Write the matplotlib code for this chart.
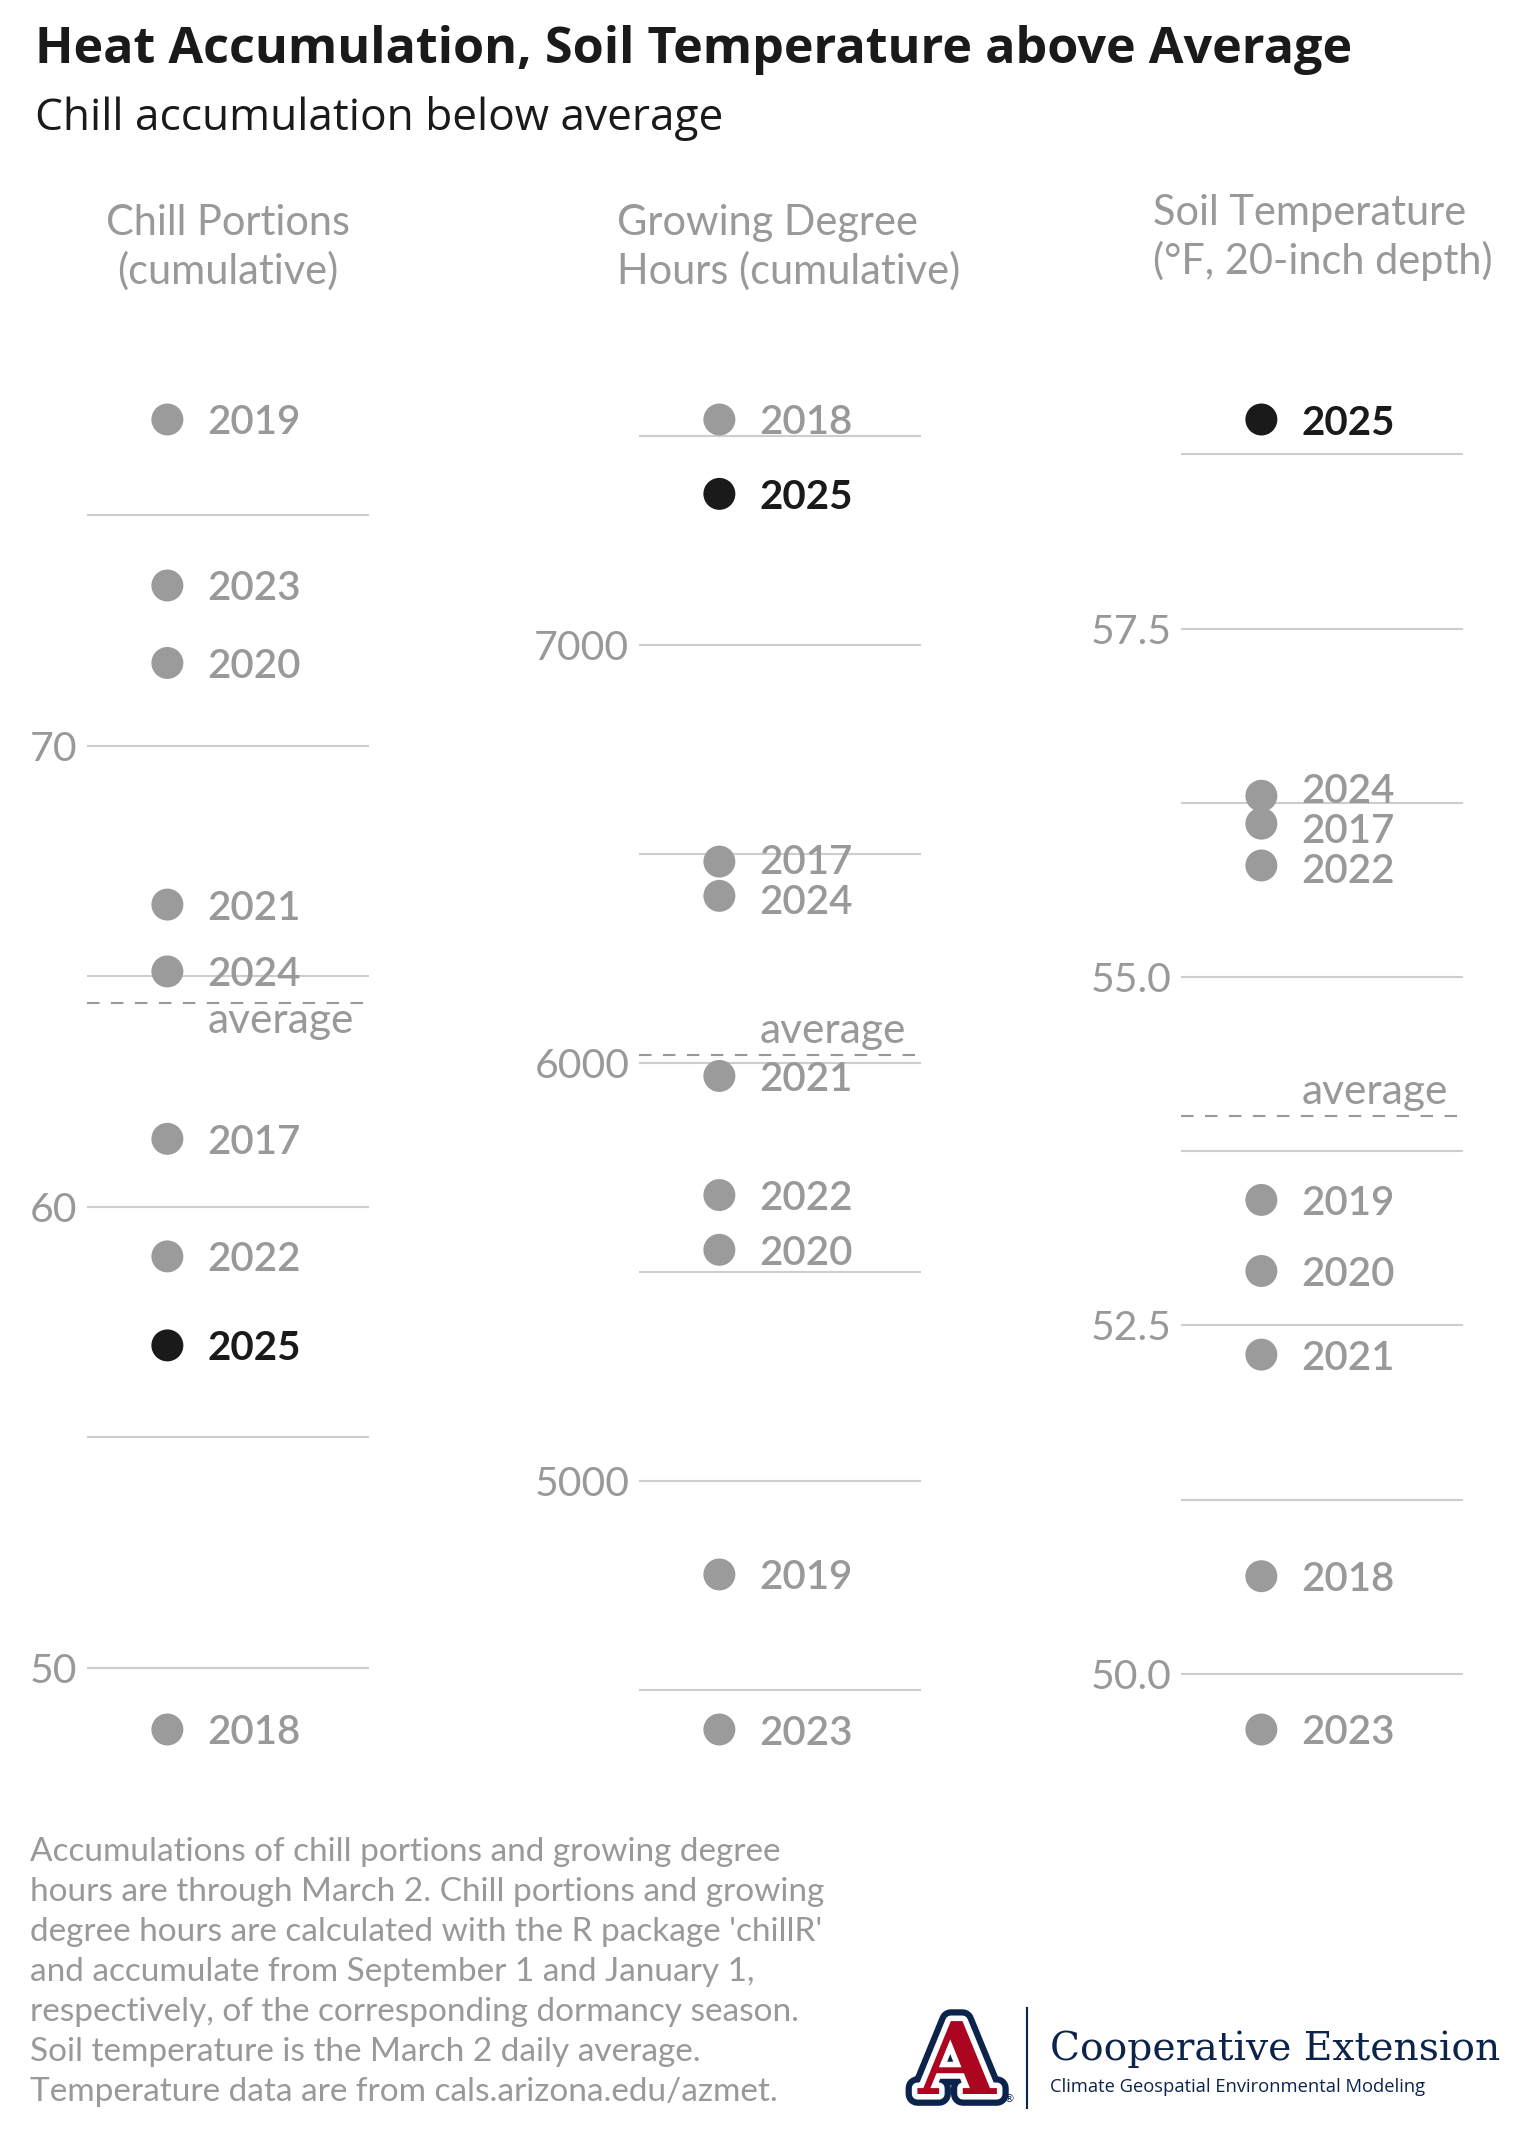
import numpy as np
import matplotlib
matplotlib.use("Agg")
import matplotlib.pyplot as plt
from matplotlib.lines import Line2D
import matplotlib.patheffects as pe

# ---------------- data ----------------
chill_years = [2019, 2023, 2020, 2021, 2024, 2017, 2022, 2025, 2018]
chill_values = [77.07, 73.47, 71.79, 66.55, 65.10, 61.47, 58.92, 56.99, 48.66]
chill_average = 64.42
chill_ticks = [50, 60, 70]
chill_tick_labels = ["50", "60", "70"]
chill_minor = [55, 65, 75]

gdh_years = [2018, 2025, 2017, 2024, 2021, 2022, 2020, 2019, 2023]
gdh_values = [7540, 7362, 6482, 6400, 5969, 5684, 5553, 4776, 4405]
gdh_average = 6018
gdh_ticks = [5000, 6000, 7000]
gdh_tick_labels = ["5000", "6000", "7000"]
gdh_minor = [4500, 5500, 6500, 7500]

soil_years = [2025, 2024, 2017, 2022, 2019, 2020, 2021, 2018, 2023]
soil_values = [59.00, 56.30, 56.10, 55.80, 53.40, 52.89, 52.29, 50.70, 49.60]
soil_average = 54.00
soil_ticks = [50.0, 52.5, 55.0, 57.5]
soil_tick_labels = ["50.0", "52.5", "55.0", "57.5"]
soil_minor = [51.25, 53.75, 56.25, 58.75]

current_year = 2025

panel_titles = [["Chill Portions", "(cumulative)"],
                ["Growing Degree", "Hours (cumulative)"],
                ["Soil Temperature", "(\u00b0F, 20-inch depth)"]]

title = "Heat Accumulation, Soil Temperature above Average"
subtitle = "Chill accumulation below average"
footnote_lines = [
    "Accumulations of chill portions and growing degree",
    "hours are through March 2. Chill portions and growing",
    "degree hours are calculated with the R package 'chillR'",
    "and accumulate from September 1 and January 1,",
    "respectively, of the corresponding dormancy season.",
    "Soil temperature is the March 2 daily average.",
    "Temperature data are from cals.arizona.edu/azmet.",
]

# ---------------- style ----------------
W, H = 1524, 2130
DPI = 100
FONT = ["Lato", "DejaVu Sans"]
plt.rcParams["font.family"] = FONT
GREY = "#9b9b9b"
TXT_GREY = "#999999"
BLACK = "#1a1a1a"
GRID = "#cdcdcd"
NAVY = "#0C234B"
RED = "#AB0520"

fig = plt.figure(figsize=(W / DPI, H / DPI), dpi=DPI)
fig.patch.set_facecolor("white")
renderer = fig.canvas.get_renderer()


def fx(x):
    return x / W


def fy(y):
    return 1 - y / H


def fit_width(t, target_px):
    w = t.get_window_extent(renderer=renderer).width
    t.set_fontsize(t.get_fontsize() * target_px / w)


def repel(ax, vals, gap_px):
    vals = np.asarray(vals, dtype=float)
    pts = ax.transData.transform(np.column_stack([np.zeros(len(vals)), vals]))
    pos = pts[:, 1].copy()
    order = np.argsort(pos)
    for _ in range(300):
        moved = False
        for i in range(len(order) - 1):
            a, b = order[i], order[i + 1]
            d = pos[b] - pos[a]
            if d < gap_px:
                s = (gap_px - d) / 2
                pos[a] -= s
                pos[b] += s
                moved = True
        if not moved:
            break
    back = ax.transData.inverted().transform(np.column_stack([np.zeros(len(vals)), pos]))
    return back[:, 1]


ax_top, ax_bot = 354, 1795
panel_lefts = [87, 639, 1181]
panel_width = 282
dot_x = 0.285
lab_x = 0.427

panels = [
    (chill_years, chill_values, chill_average, chill_ticks, chill_tick_labels, chill_minor, "below"),
    (gdh_years, gdh_values, gdh_average, gdh_ticks, gdh_tick_labels, gdh_minor, "above"),
    (soil_years, soil_values, soil_average, soil_ticks, soil_tick_labels, soil_minor, "above"),
]

for (years, vals, avg, ticks, tlabels, minor, avg_pos), left in zip(panels, panel_lefts):
    ax = fig.add_axes([fx(left), fy(ax_bot), panel_width / W, (ax_bot - ax_top) / H])
    ax.set_facecolor("none")
    vmin, vmax = min(vals), max(vals)
    r = vmax - vmin
    ax.set_ylim(vmin - 0.05 * r, vmax + 0.05 * r)
    ax.set_xlim(0, 1)
    for s in ax.spines.values():
        s.set_visible(False)
    ax.set_xticks([])
    ax.set_yticks(ticks)
    ax.set_yticklabels(tlabels)
    ax.tick_params(axis="y", length=0, pad=7, labelsize=29.5, labelcolor=TXT_GREY)
    for g in list(ticks) + list(minor):
        ax.axhline(g, color=GRID, lw=1.5, zorder=1)
    # average line
    ax.axhline(avg, color=TXT_GREY, lw=1.5, dashes=(6, 5.5), zorder=2)
    off = 9 if avg_pos == "above" else -22
    ax.annotate("average", (lab_x, avg), xytext=(0, off), textcoords="offset points",
                ha="left", va="baseline", fontsize=30.5, color=TXT_GREY, zorder=3)
    colors = [BLACK if y == current_year else GREY for y in years]
    ax.scatter([dot_x] * len(vals), vals, s=530, c=colors, linewidths=0, zorder=4)
    lab_y = repel(ax, vals, 40)
    for yr, ly in zip(years, lab_y):
        cur = yr == current_year
        ax.text(lab_x, ly, str(yr), ha="left", va="center_baseline", fontsize=29,
                fontweight="bold" if cur else "semibold",
                color=BLACK if cur else TXT_GREY, zorder=5)

# panel titles (line by line)
pt_size = 30
t0 = fig.text(fx(228), fy(235), panel_titles[0][0], ha="center", va="baseline",
              fontsize=pt_size, color=TXT_GREY)
fit_width(t0, 244)
pt_size = t0.get_fontsize()
fig.text(fx(228), fy(284), panel_titles[0][1], ha="center", va="baseline",
         fontsize=pt_size, color=TXT_GREY)
fig.text(fx(617), fy(235), panel_titles[1][0], ha="left", va="baseline", fontsize=pt_size, color=TXT_GREY)
fig.text(fx(617), fy(284), panel_titles[1][1], ha="left", va="baseline", fontsize=pt_size, color=TXT_GREY)
fig.text(fx(1153), fy(225), panel_titles[2][0], ha="left", va="baseline", fontsize=pt_size, color=TXT_GREY)
fig.text(fx(1153), fy(274), panel_titles[2][1], ha="left", va="baseline", fontsize=pt_size, color=TXT_GREY)

# title + subtitle
tt = fig.text(fx(35), fy(63), title, ha="left", va="baseline", fontsize=34, fontweight="bold",
              family=["Open Sans", "DejaVu Sans"], color=BLACK)
fit_width(tt, 1321)
st = fig.text(fx(35), fy(130), subtitle, ha="left", va="baseline", fontsize=28,
              family=["Open Sans", "DejaVu Sans"], color=BLACK)
fit_width(st, 689)

# footnote
foot_centers = [1851, 1891, 1931, 1971, 2011, 2051, 2091]
f0 = fig.text(fx(30), fy(foot_centers[0] + 10), footnote_lines[0], ha="left", va="baseline",
              fontsize=24, color=TXT_GREY)
fit_width(f0, 751)
fsize = f0.get_fontsize()
for line, yc in zip(footnote_lines[1:], foot_centers[1:]):
    fig.text(fx(30), fy(yc + 10), line, ha="left", va="baseline", fontsize=fsize, color=TXT_GREY)

# logo
fig.text(fx(957), fy(2094), "A", ha="center", va="baseline", fontsize=72, fontweight="bold",
         family="DejaVu Serif", color=RED,
         path_effects=[pe.Stroke(linewidth=17, foreground=NAVY),
                       pe.Stroke(linewidth=8, foreground="white"), pe.Normal()])
fig.text(fx(1009), fy(2102), "\u00ae", ha="center", va="baseline", fontsize=8, color=NAVY,
         family="DejaVu Sans")
fig.add_artist(Line2D([fx(1027), fx(1027)], [fy(2008), fy(2108)], color=NAVY, lw=1.5))
ce = fig.text(fx(1050), fy(2060), "Cooperative Extension", ha="left", va="baseline", fontsize=27,
              family="DejaVu Serif", color=NAVY)
fit_width(ce, 450)
cg = fig.text(fx(1050), fy(2092), "Climate Geospatial Environmental Modeling", ha="left",
              va="baseline", fontsize=13.5, family=["Open Sans", "DejaVu Sans"], color=NAVY)
fit_width(cg, 374)

fig.savefig("out.png", dpi=DPI, facecolor="white")
